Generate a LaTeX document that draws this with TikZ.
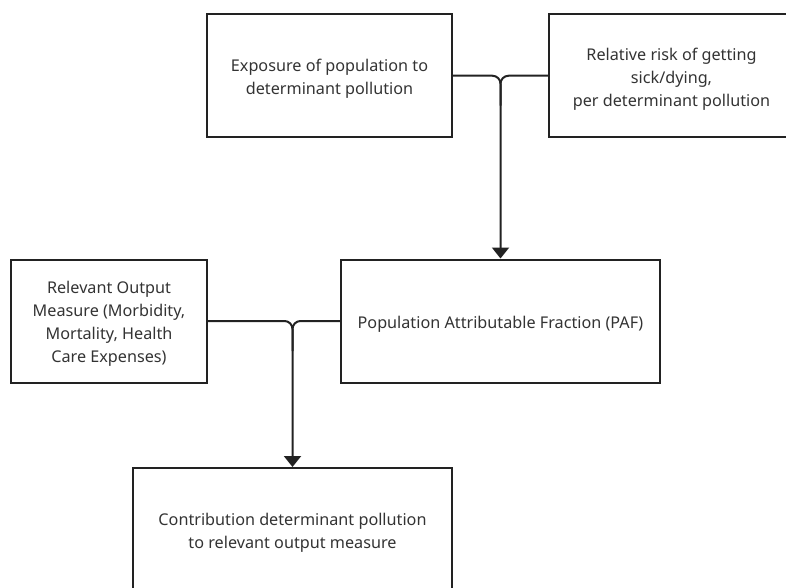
\documentclass[tikz,border=0pt]{standalone}
\usepackage{fontspec}
\setmainfont{Noto Sans}
\usetikzlibrary{arrows.meta}
\definecolor{edge}{HTML}{222222}
\definecolor{ink}{HTML}{333333}
\begin{document}
\begin{tikzpicture}[x=1pt,y=1pt,
  box/.style={draw=edge, line width=2pt, rectangle, inner sep=0pt,
    minimum height=123pt},
  txt/.style={align=center, text=ink, inner sep=0pt, yshift=-3pt,
    font=\fontsize{16.2}{23}\selectfont},
  conn/.style={draw=edge, line width=2pt, rounded corners=8pt},
  tip/.style={-{Triangle[width=17pt,length=11pt]}}]
\useasboundingbox (0,0) rectangle (786,-588);

\node[box, minimum width=245pt,
  label={[txt]center:{Exposure of population to\\determinant pollution}}]
  (expo) at (329.5,-75.75) {};
\node[box, minimum width=245pt,
  label={[txt]center:{Relative risk of getting\\sick/dying,\\per determinant pollution}}]
  (risk) at (671.5,-75.75) {};
\node[box, minimum width=196pt,
  label={[txt]center:{Relevant Output\\Measure (Morbidity,\\Mortality, Health\\Care Expenses)}}]
  (outm) at (109,-321) {};
\node[box, minimum width=319pt,
  label={[txt]center:{Population Attributable Fraction (PAF)}}]
  (paf) at (500.5,-321) {};
\node[box, minimum width=319pt,
  label={[txt]center:{Contribution determinant pollution\\to relevant output measure}}]
  (contr) at (292.5,-529.5) {};

\coordinate (j1) at (paf.north |- expo.east);
\coordinate (j2) at (contr.north |- outm.east);

\draw[conn, tip] (expo.east) -- (j1) -- (paf.north);
\draw[conn] (risk.west) -- (j1) -- ([yshift=-30pt]j1);
\draw[conn, tip] (outm.east) -- (j2) -- (contr.north);
\draw[conn] (paf.west) -- (j2) -- ([yshift=-30pt]j2);
\end{tikzpicture}
\end{document}
